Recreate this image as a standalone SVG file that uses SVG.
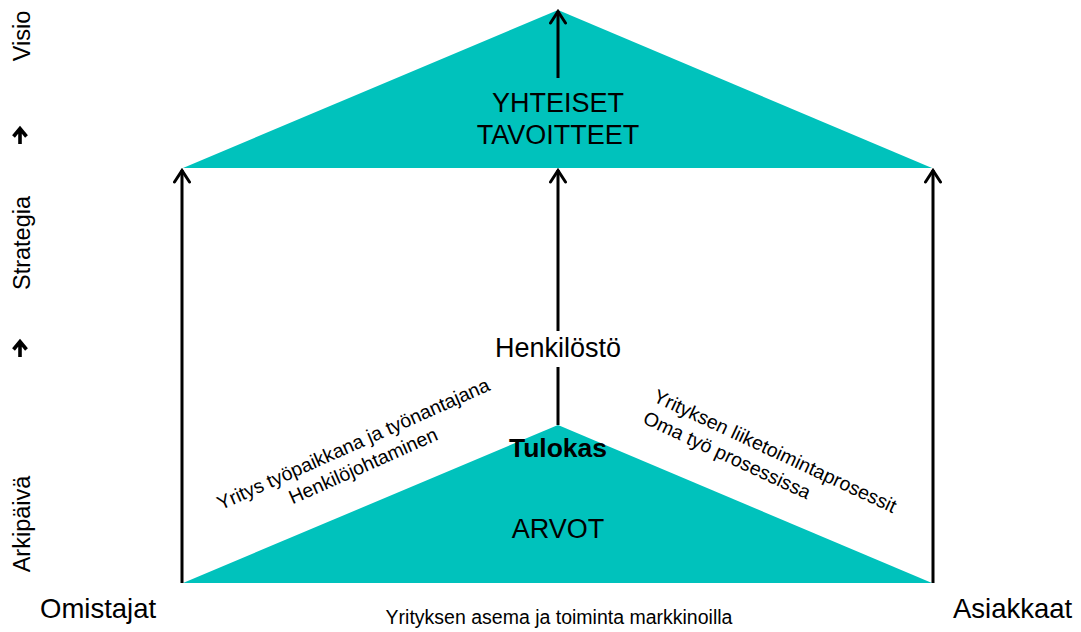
<svg xmlns="http://www.w3.org/2000/svg" width="1081" height="632" viewBox="0 0 1081 632">
  <defs>
    <!-- open V head, drawn pointing along +x so orient="auto" follows the line -->
    <marker id="head" viewBox="0 0 16 18" refX="14" refY="9" markerWidth="16" markerHeight="18" markerUnits="userSpaceOnUse" orient="auto">
      <path d="M2,1.5 L13.5,9 L2,16.5" fill="none" stroke="#000" stroke-width="3" stroke-linecap="round" stroke-linejoin="miter"/>
    </marker>
    <style>
      .roof { fill: #00C2BC; }
      .ln { stroke: #000; stroke-width: 3; fill: none; }
      .arr { stroke: #000; stroke-width: 3; fill: none; marker-end: url(#head); }
      .t { font-family: "Liberation Sans", Arial, sans-serif; fill: #000; }
      .big { font-size: 27px; text-anchor: middle; }
      .corner { font-size: 27.5px; }
      .side { font-size: 23.5px; text-anchor: middle; }
      .diag { font-size: 19.5px; }
    </style>
  </defs>

  <!-- upper triangle: shared goals -->
  <g id="goals">
    <polygon class="roof" points="558,10 932,168 183,168"/>
    <text class="t big" x="558" y="112">YHTEISET</text>
    <text class="t big" x="558" y="144">TAVOITTEET</text>
  </g>

  <!-- lower triangle: values -->
  <g id="values">
    <polygon class="roof" points="558,425 932,583 183,583"/>
    <text class="t big" x="558" y="538">ARVOT</text>
  </g>

  <g id="result">
    <text class="t big" x="558" y="457" style="font-weight:bold;font-size:26.5px">Tulokas</text>
  </g>

  <g id="staff">
    <text class="t big" x="558" y="357">Henkilöstö</text>
  </g>

  <g id="owners">
    <text class="t corner" x="40" y="618">Omistajat</text>
  </g>

  <g id="customers">
    <text class="t corner" x="953" y="618">Asiakkaat</text>
  </g>

  <g id="market">
    <text class="t" x="559" y="624" style="font-size:19.5px" text-anchor="middle">Yrityksen asema ja toiminta markkinoilla</text>
  </g>

  <g id="employer-label" transform="translate(356,450) rotate(-24)">
    <text class="t diag" x="0" y="0" text-anchor="middle">Yritys työpaikkana ja työnantajana</text>
    <text class="t diag" x="0" y="24" text-anchor="middle">Henkilöjohtaminen</text>
  </g>

  <g id="process-label" transform="translate(652,401) rotate(25)">
    <text class="t diag" x="0" y="0">Yrityksen liiketoimintaprosessit</text>
    <text class="t diag" x="0" y="24">Oma työ prosessissa</text>
  </g>

  <!-- level scale on the left edge -->
  <g id="levels">
    <text class="t side" transform="translate(30,36) rotate(-90)">Visio</text>
    <text class="t side" transform="translate(30,243) rotate(-90)">Strategia</text>
    <text class="t side" transform="translate(30,524) rotate(-90)">Arkipäivä</text>
    <path d="M20,144 V130 M13.5,136.5 L20,128.5 L26.5,136.5" fill="none" stroke="#000" stroke-width="3.6" stroke-linejoin="miter"/>
    <path d="M20,357 V343 M13.5,349.5 L20,341.5 L26.5,349.5" fill="none" stroke="#000" stroke-width="3.6" stroke-linejoin="miter"/>
  </g>

  <g id="connectors">
    <line class="arr" x1="182" y1="583" x2="182" y2="170"/>
    <line class="arr" x1="933" y1="583" x2="933" y2="170"/>
    <line class="arr" x1="558" y1="331" x2="558" y2="170"/>
    <line class="arr" x1="558" y1="78" x2="558" y2="11"/>
    <line class="ln" x1="558" y1="425" x2="558" y2="367"/>
  </g>
</svg>
